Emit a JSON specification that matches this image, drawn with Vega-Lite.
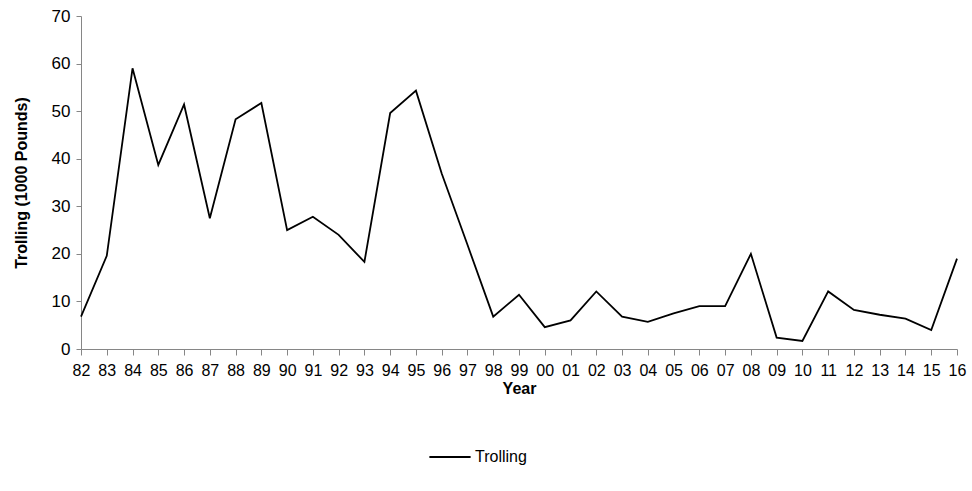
{
  "$schema": "https://vega.github.io/schema/vega-lite/v6.json",
  "width": 876,
  "height": 333,
  "autosize": "none",
  "padding": {"left": 81, "top": 16, "right": 15, "bottom": 142},
  "background": "white",
  "config": {
    "view": {"stroke": null},
    "font": "Liberation Sans",
    "axis": {"labelFont": "Liberation Sans", "titleFont": "Liberation Sans", "labelColor": "#000", "titleColor": "#000"}
  },
  "data": {
    "values": [
      {"Year": "82", "Trolling": 6.8},
      {"Year": "83", "Trolling": 19.6},
      {"Year": "84", "Trolling": 59.0},
      {"Year": "85", "Trolling": 38.7},
      {"Year": "86", "Trolling": 51.4},
      {"Year": "87", "Trolling": 27.5},
      {"Year": "88", "Trolling": 48.3},
      {"Year": "89", "Trolling": 51.7},
      {"Year": "90", "Trolling": 25.0},
      {"Year": "91", "Trolling": 27.8},
      {"Year": "92", "Trolling": 24.0},
      {"Year": "93", "Trolling": 18.3},
      {"Year": "94", "Trolling": 49.6},
      {"Year": "95", "Trolling": 54.3},
      {"Year": "96", "Trolling": 36.9},
      {"Year": "97", "Trolling": 21.9},
      {"Year": "98", "Trolling": 6.8},
      {"Year": "99", "Trolling": 11.4},
      {"Year": "00", "Trolling": 4.6},
      {"Year": "01", "Trolling": 6.0},
      {"Year": "02", "Trolling": 12.1},
      {"Year": "03", "Trolling": 6.8},
      {"Year": "04", "Trolling": 5.7},
      {"Year": "05", "Trolling": 7.5},
      {"Year": "06", "Trolling": 9.0},
      {"Year": "07", "Trolling": 9.0},
      {"Year": "08", "Trolling": 20.0},
      {"Year": "09", "Trolling": 2.4},
      {"Year": "10", "Trolling": 1.7},
      {"Year": "11", "Trolling": 12.1},
      {"Year": "12", "Trolling": 8.2},
      {"Year": "13", "Trolling": 7.2},
      {"Year": "14", "Trolling": 6.4},
      {"Year": "15", "Trolling": 4.0},
      {"Year": "16", "Trolling": 19.0}
    ]
  },
  "mark": {"type": "line", "strokeWidth": 1.8},
  "encoding": {
    "x": {
      "field": "Year",
      "type": "ordinal",
      "sort": null,
      "scale": {"type": "point", "padding": 0},
      "axis": {
        "title": "Year",
        "titleFontSize": 16,
        "titleFontWeight": "bold",
        "titlePadding": 2,
        "labelFontSize": 16,
        "labelAngle": 0,
        "labelPadding": 7,
        "domainColor": "#868686",
        "tickColor": "#868686",
        "tickSize": 6,
        "labelOverlap": false
      }
    },
    "y": {
      "field": "Trolling",
      "type": "quantitative",
      "scale": {"domain": [0, 70], "nice": false},
      "axis": {
        "title": "Trolling  (1000 Pounds)",
        "titleFontSize": 16,
        "titleFontWeight": "bold",
        "titlePadding": 22,
        "labelFontSize": 17,
        "labelPadding": 6,
        "values": [0, 10, 20, 30, 40, 50, 60, 70],
        "grid": false,
        "domainColor": "#868686",
        "tickColor": "#868686",
        "tickSize": 5
      }
    },
    "color": {
      "datum": "Trolling",
      "type": "nominal",
      "scale": {"range": ["#000000"]},
      "legend": {
        "title": null,
        "orient": "none",
        "legendX": 347,
        "legendY": 419,
        "symbolType": "stroke",
        "symbolSize": 1700,
        "symbolStrokeWidth": 1.8,
        "labelFontSize": 16,
        "labelFont": "Liberation Sans",
        "labelColor": "#000",
        "labelOffset": 3
      }
    }
  }
}
